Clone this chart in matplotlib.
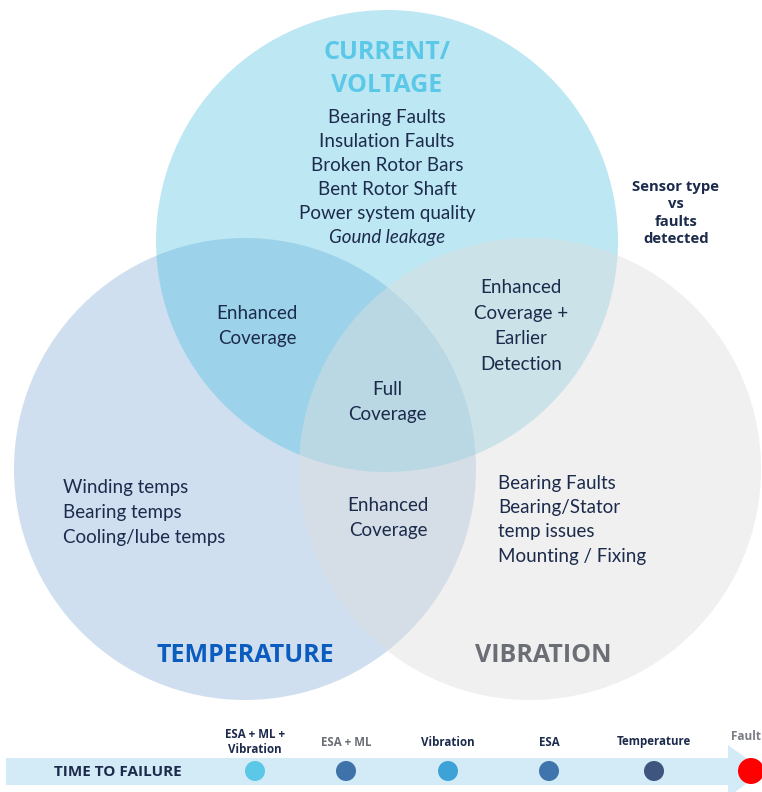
import matplotlib.pyplot as plt
from matplotlib.patches import Circle, Polygon, Rectangle

plt.rcParams['font.family'] = ['Lato', 'DejaVu Sans']
heavy = ['Open Sans', 'DejaVu Sans']

# sensor sets: title, fill colour, alpha, title colour
set_names = ["TEMPERATURE", "CURRENT/\nVOLTAGE", "VIBRATION"]
set_fill = ["#cfdff0", "#42bddf", "#dedede"]
set_alpha = [1.0, 0.35, 0.45]
set_title_color = ["#0a5cbf", "#5bc8e8", "#6b6e75"]

current_faults = ["Bearing Faults", "Insulation Faults", "Broken Rotor Bars",
                  "Bent Rotor Shaft", "Power system quality"]
current_italic = "Gound leakage"
temp_faults = ["Winding temps", "Bearing temps", "Cooling/lube temps"]
vib_faults = ["Bearing Faults", "Bearing/Stator", "temp issues", "Mounting / Fixing"]

overlap_cur_temp = "Enhanced\nCoverage"
overlap_cur_vib = "Enhanced\nCoverage +\nEarlier\nDetection"
overlap_all = "Full\nCoverage"
overlap_temp_vib = "Enhanced\nCoverage"

side_note = "Sensor type\nvs\nfaults\ndetected"

# timeline
timeline_labels = ["ESA + ML +\nVibration", "ESA + ML", "Vibration", "ESA", "Temperature"]
timeline_label_colors = ["#1c2b4b", "#6b6e75", "#1c2b4b", "#1c2b4b", "#1c2b4b"]
timeline_dot_colors = ["#5bc8e8", "#3f72a9", "#3da3d6", "#3f74ac", "#3e567f"]
fault_label = "Fault"

dark = "#1c2b4b"

fig = plt.figure(figsize=(7.62, 7.92), dpi=100)
ax = fig.add_axes([0, 0, 1, 1])
ax.set_xlim(0, 762)
ax.set_ylim(792, 0)
ax.axis('off')

# circles: left (temp), top (current), right (vibration)
centers = [(245, 469), (387, 241), (530, 469)]
radius = 231
for i in range(3):
    ax.add_patch(Circle(centers[i], radius, facecolor=set_fill[i], alpha=set_alpha[i],
                        edgecolor='none', zorder=1 + i))

# set titles
ax.text(387, 69, set_names[1], ha='center', va='center', fontsize=18, fontweight='bold',
        family=heavy, color=set_title_color[1], linespacing=1.43, zorder=10)
ax.text(245, 655, set_names[0], ha='center', va='center', fontsize=18, fontweight='bold',
        family=heavy, color=set_title_color[0], zorder=10)
ax.text(543, 655, set_names[2], ha='center', va='center', fontsize=18, fontweight='bold',
        family=heavy, color=set_title_color[2], zorder=10)

# current / voltage list
for i, line in enumerate(current_faults):
    ax.text(387, 117 + i * 24.2, line, ha='center', va='center', fontsize=13.5, color=dark, zorder=10)
ax.text(387, 117 + len(current_faults) * 24.2, current_italic, ha='center', va='center',
        fontsize=13.5, color=dark, style='italic', zorder=10)

# temperature list
for i, line in enumerate(temp_faults):
    ax.text(63, 488 + i * 24.5, line, ha='left', va='center', fontsize=13.5, color=dark, zorder=10)

# vibration list
for i, line in enumerate(vib_faults):
    ax.text(498, 483 + i * 24.5, line, ha='left', va='center', fontsize=13.5, color=dark, zorder=10)

# overlaps
kw = dict(ha='center', va='center', fontsize=13.5, color=dark, linespacing=1.62, zorder=10)
ax.text(257, 326, overlap_cur_temp, **kw)
ax.text(521, 326, overlap_cur_vib, **kw)
ax.text(387, 402, overlap_all, **kw)
ax.text(388, 518, overlap_temp_vib, **kw)

ax.text(676, 213, side_note, ha='center', va='center', fontsize=10.7, fontweight='bold',
        family=heavy, color=dark, linespacing=1.28, zorder=10)

# timeline band with arrow head
band = "#d2ebf6"
ax.add_patch(Rectangle((6, 758), 724, 27, facecolor=band, edgecolor='none', zorder=1))
ax.add_patch(Polygon([(728, 745), (764, 771), (728, 797)], closed=True,
                     facecolor=band, edgecolor='none', zorder=1))
ax.text(118, 772, "TIME TO FAILURE", ha='center', va='center', fontsize=11,
        fontweight='bold', family=heavy, color=dark, zorder=10)

dot_x = [255, 346, 448, 549, 654]
for i, lab in enumerate(timeline_labels):
    ax.add_patch(Circle((dot_x[i], 771), 10, facecolor=timeline_dot_colors[i],
                        edgecolor='none', zorder=5))
    ax.text(dot_x[i], 742, lab, ha='center', va='center', fontsize=8.3, fontweight='bold',
            family=heavy, color=timeline_label_colors[i], linespacing=1.15, zorder=10)
ax.add_patch(Circle((751, 771), 13, facecolor="#ff0000", edgecolor='none', zorder=5))
ax.text(746, 737, fault_label, ha='center', va='center', fontsize=8.5, fontweight='bold',
        family=heavy, color="#7a7d84", zorder=10)

fig.savefig("out.png", dpi=100)
